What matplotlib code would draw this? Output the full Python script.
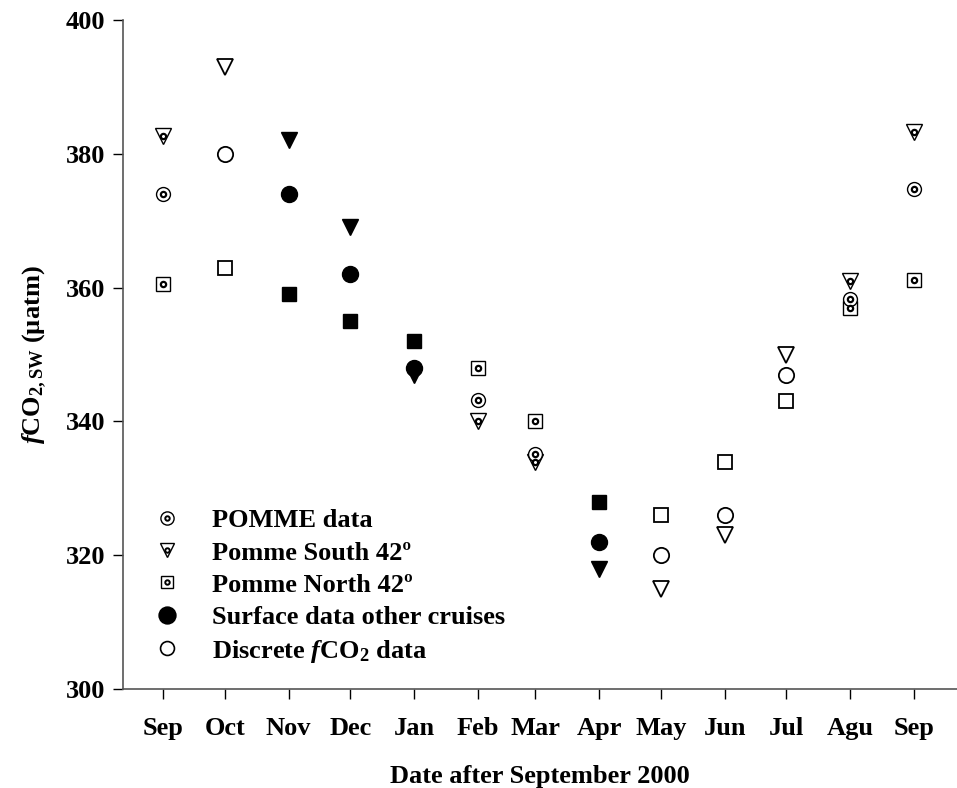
import matplotlib
matplotlib.use("Agg")
import matplotlib.pyplot as plt
import pandas as pd
from matplotlib.lines import Line2D

plt.rcParams['font.family'] = ['Liberation Serif', 'DejaVu Serif']
plt.rcParams['font.weight'] = 'bold'
plt.rcParams['axes.labelweight'] = 'bold'
plt.rcParams['mathtext.fontset'] = 'custom'
plt.rcParams['mathtext.rm'] = 'Liberation Serif:bold'
plt.rcParams['mathtext.it'] = 'Liberation Serif:bold:italic'
plt.rcParams['mathtext.bf'] = 'Liberation Serif:bold'

# ---------------- data ----------------
month_labels = ['Sep', 'Oct', 'Nov', 'Dec', 'Jan', 'Feb', 'Mar', 'Apr', 'May', 'Jun', 'Jul', 'Agu', 'Sep']
month_dates = ['2000-09-15', '2000-10-15', '2000-11-15', '2000-12-15', '2001-01-15', '2001-02-15',
               '2001-03-15', '2001-04-15', '2001-05-15', '2001-06-15', '2001-07-15', '2001-08-15',
               '2001-09-15']

# POMME data (dotted markers): Sep, Feb, Mar, Agu, Sep
pomme_dates = ['2000-09-15', '2001-02-15', '2001-03-15', '2001-08-15', '2001-09-15']
pomme_data = [374.0, 343.2, 335.2, 358.3, 374.8]
pomme_south = [382.6, 340.0, 334.0, 361.0, 383.3]
pomme_north = [360.6, 348.0, 340.0, 357.0, 361.2]

# Surface data other cruises (filled): Nov, Dec, Jan, Apr
surf_dates = ['2000-11-15', '2000-12-15', '2001-01-15', '2001-04-15']
surf_data = [374.0, 362.0, 348.0, 322.0]
surf_south = [382.0, 369.0, 347.0, 318.0]
surf_north = [359.0, 355.0, 352.0, 328.0]

# Discrete fCO2 data (open): Oct, May, Jun, Jul
disc_dates = ['2000-10-15', '2001-05-15', '2001-06-15', '2001-07-15']
disc_data = [380.0, 320.0, 326.0, 347.0]
disc_south = [393.0, 315.0, 323.0, 350.0]
disc_north = [363.0, 326.0, 334.0, 343.0]

legend_labels = ['POMME data', 'Pomme South 42º', 'Pomme North 42º',
                 'Surface data other cruises', r'Discrete $\mathit{f}$CO$_2$ data']

# ---------------- figure ----------------
start = pd.Timestamp('2000-09-01')
def days(ds):
    return [(pd.Timestamp(d) - start).days for d in ds]

fig = plt.figure(figsize=(9.57, 7.88), dpi=100)
ax = fig.add_axes([0.1285, 0.1256, 0.8715, 0.849])

xp = days(pomme_dates)
xs = days(surf_dates)
xd = days(disc_dates)

def dotted(x, y, marker, size):
    ax.plot(x, y, linestyle='none', marker=marker, markersize=size, mfc='white', mec='black', mew=1.0, zorder=3)
    ax.plot(x, y, linestyle='none', marker='o', markersize=3.8, mfc='white', mec='black', mew=1.6, zorder=4)

dotted(xp, pomme_north, 's', 9.5)
dotted(xp, pomme_south, 'v', 11)
dotted(xp, pomme_data, 'o', 10)

ax.plot(xs, surf_north, linestyle='none', marker='s', markersize=10.5, color='black', zorder=3)
ax.plot(xs, surf_south, linestyle='none', marker='v', markersize=12, color='black', zorder=3)
ax.plot(xs, surf_data, linestyle='none', marker='o', markersize=11.5, color='black', zorder=3)

ax.plot(xd, disc_north, linestyle='none', marker='s', markersize=10, mfc='white', mec='black', mew=1.3, zorder=3)
ax.plot(xd, disc_south, linestyle='none', marker='v', markersize=12, mfc='white', mec='black', mew=1.3, zorder=3)
ax.plot(xd, disc_data, linestyle='none', marker='o', markersize=11, mfc='white', mec='black', mew=1.3, zorder=3)

ax.set_xlim(-5.5, 400)
ax.set_ylim(300, 400)
ax.set_yticks([300, 320, 340, 360, 380, 400])
ax.set_xticks(days(month_dates))
ax.set_xticklabels(month_labels)
ax.tick_params(axis='both', direction='out', length=7, width=1, labelsize=19, colors='black')
ax.tick_params(axis='x', pad=13)
ax.tick_params(axis='y', pad=6)
for s in ['top', 'right']:
    ax.spines[s].set_visible(False)
for s in ['left', 'bottom']:
    ax.spines[s].set_color('#555555')
    ax.spines[s].set_linewidth(1.2)

ax.set_xlabel('Date after September 2000', fontsize=19, labelpad=18)
ax.set_ylabel(r'$\mathit{f}$CO$_{2,\mathrm{SW}}$ (µatm)', fontsize=19, labelpad=12)

# legend
def lh(marker, size, filled, dot):
    if dot:
        return (Line2D([], [], linestyle='none', marker=marker, markersize=size, mfc='white', mec='black', mew=1.0),
                Line2D([], [], linestyle='none', marker='o', markersize=3.2, mfc='white', mec='black', mew=1.4))
    return Line2D([], [], linestyle='none', marker=marker, markersize=size,
                  mfc='black' if filled else 'white', mec='black', mew=1.2)

handles = [lh('o', 9.5, False, True), lh('v', 10.5, False, True), lh('s', 9, False, True),
           lh('o', 12, True, False), lh('o', 10, False, False)]
leg = ax.legend(handles, legend_labels, loc='lower left', bbox_to_anchor=(0.005, 0.001),
                frameon=False, fontsize=19, handletextpad=1.1, labelspacing=0.33,
                handlelength=1.2)

fig.savefig('out.png', dpi=100)
